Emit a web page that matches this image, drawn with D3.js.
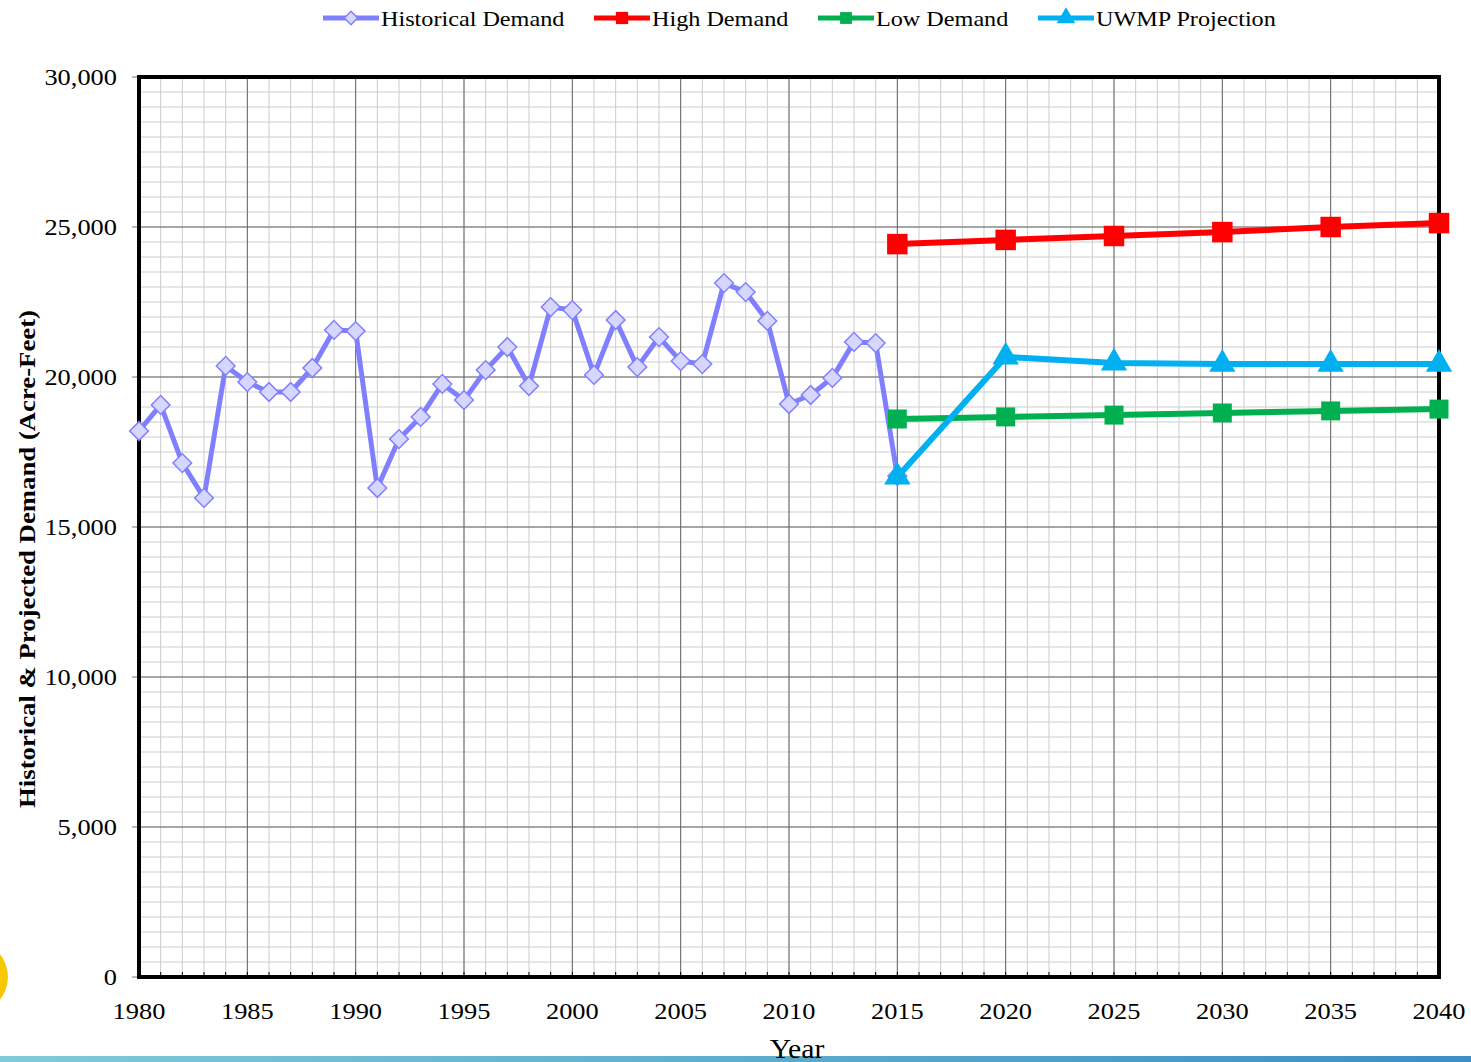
<!DOCTYPE html>
<html lang="en">
<head>
<meta charset="utf-8">
<title>Historical & Projected Demand</title>
<script src="https://cdn.jsdelivr.net/npm/d3@7"></script>
<style>
  body { margin: 0; background: #fff; overflow: hidden; }
  text { font-family: "Liberation Serif", "Times New Roman", serif; fill: #000; }
</style>
</head>
<body>
<script>
// data
var histYears = d3.range(1980, 2016);
var histValues = [18200, 19070, 17130, 15970, 20370, 19830, 19500, 19500, 20300, 21570,
                  21530, 16300, 17930, 18670, 19770, 19230, 20230, 21000, 19700, 22330,
                  22230, 20070, 21900, 20330, 21330, 20530, 20430, 23130, 22830, 21870,
                  19100, 19400, 19970, 21170, 21130, 16700];
var projYears = [2015, 2020, 2025, 2030, 2035, 2040];
var highValues = [24430, 24570, 24700, 24830, 25000, 25130];
var lowValues = [18600, 18670, 18730, 18800, 18870, 18930];
var uwmpValues = [16670, 20670, 20470, 20430, 20430, 20430];
var seriesNames = ["Historical Demand", "High Demand", "Low Demand", "UWMP Projection"];
var yTicks = d3.range(0, 30001, 5000);
var xTicks = d3.range(1980, 2041, 5);

var W = 1471, H = 1062;
var pLeft = 139, pRight = 1439, pTop = 77, pBottom = 977;
var stretch = 1.1; // reference text is a bit wide

var svg = d3.select("body").append("svg").attr("width", W).attr("height", H);

var x = d3.scaleLinear().domain([1980, 2040]).range([pLeft, pRight]);
var y = d3.scaleLinear().domain([0, 30000]).range([pBottom, pTop]);

function label(parent, tx, ty, str, size, anchor) {
  return parent.append("text")
    .attr("transform", "translate(" + tx + "," + ty + ") scale(" + stretch + ",1)")
    .attr("text-anchor", anchor || "start")
    .attr("font-size", size)
    .text(str);
}

// bottom decoration
var grad = svg.append("defs").append("linearGradient").attr("id", "bar");
grad.append("stop").attr("offset", "0%").attr("stop-color", "#7fcbd8");
grad.append("stop").attr("offset", "100%").attr("stop-color", "#3a8fc4");
svg.append("rect").attr("x", 0).attr("y", 1056).attr("width", W).attr("height", 6).attr("fill", "url(#bar)");
svg.append("circle").attr("cx", -28).attr("cy", 977).attr("r", 36).attr("fill", "#f5c800");

// minor grid
var g = svg.append("g");
g.selectAll("line.vminor").data(d3.range(1981, 2040)).enter().append("line")
  .attr("x1", d => x(d)).attr("x2", d => x(d)).attr("y1", pTop).attr("y2", pBottom)
  .attr("stroke", "#cdcdcd").attr("stroke-width", 1);
g.selectAll("line.hminor").data(d3.range(500, 30000, 500)).enter().append("line")
  .attr("x1", pLeft).attr("x2", pRight).attr("y1", d => y(d)).attr("y2", d => y(d))
  .attr("stroke", "#cdcdcd").attr("stroke-width", 1);
// major grid
g.selectAll("line.vmajor").data(d3.range(1985, 2040, 5)).enter().append("line")
  .attr("x1", d => x(d)).attr("x2", d => x(d)).attr("y1", pTop).attr("y2", pBottom)
  .attr("stroke", "#666").attr("stroke-width", 1);
g.selectAll("line.hmajor").data(d3.range(5000, 30000, 5000)).enter().append("line")
  .attr("x1", pLeft).attr("x2", pRight).attr("y1", d => y(d)).attr("y2", d => y(d))
  .attr("stroke", "#666").attr("stroke-width", 1);

// small year ticks inside bottom
g.selectAll("line.ytick").data(d3.range(1981, 2040)).enter().append("line")
  .attr("x1", d => x(d)).attr("x2", d => x(d)).attr("y1", pBottom).attr("y2", pBottom - 5)
  .attr("stroke", "#000").attr("stroke-width", 1);

// y axis ticks and labels
var ya = svg.append("g");
ya.selectAll("line").data(yTicks).enter().append("line")
  .attr("x1", pLeft - 7).attr("x2", pLeft).attr("y1", d => y(d)).attr("y2", d => y(d))
  .attr("stroke", "#777");
yTicks.forEach(function(d) {
  label(ya, 117, y(d) + 8, d3.format(",")(d), 24, "end");
});

// x axis labels
var xa = svg.append("g");
xTicks.forEach(function(d) {
  label(xa, x(d), 1019, d3.format("d")(d), 24, "middle");
});

// frame
svg.append("rect").attr("x", pLeft).attr("y", pTop).attr("width", pRight - pLeft).attr("height", pBottom - pTop)
  .attr("fill", "none").attr("stroke", "#000").attr("stroke-width", 4);

// titles
label(svg, 797, 1058, "Year", 27, "middle");
svg.append("text").attr("transform", "translate(35,559) rotate(-90)")
  .attr("text-anchor", "middle").attr("font-size", 24).attr("font-weight", "bold")
  .attr("textLength", 498).attr("lengthAdjust", "spacingAndGlyphs")
  .text("Historical & Projected Demand (Acre-Feet)");

var line = d3.line().x(d => x(d[0])).y(d => y(d[1]));

function zip(a, b) { return a.map((v, i) => [v, b[i]]); }

var hist = zip(histYears, histValues);
var high = zip(projYears, highValues);
var low = zip(projYears, lowValues);
var uwmp = zip(projYears, uwmpValues);

var diamond = d3.symbol().type(d3.symbolSquare).size(175);
var square = d3.symbol().type(d3.symbolSquare).size(420);
var square2 = d3.symbol().type(d3.symbolSquare).size(360);
var tri = d3.symbol().type(d3.symbolTriangle).size(300);

function drawSeries(data, color, width, sym, fill, stroke, rot) {
  svg.append("path").datum(data).attr("d", line).attr("fill", "none")
    .attr("stroke", color).attr("stroke-width", width).attr("stroke-linejoin", "round");
  svg.append("g").selectAll("path").data(data).enter().append("path")
    .attr("d", sym)
    .attr("transform", d => "translate(" + x(d[0]) + "," + y(d[1]) + ") rotate(" + rot + ")")
    .attr("fill", fill).attr("stroke", stroke).attr("stroke-width", 1.5);
}

drawSeries(hist, "#8080ff", 5, diamond, "#d6d6ff", "#8080ff", 45);
drawSeries(high, "#ff0000", 6, square, "#ff0000", "none", 0);
drawSeries(low, "#00b050", 6, square2, "#00b050", "none", 0);
drawSeries(uwmp, "#00b0f0", 6, tri, "#00b0f0", "none", 0);

// legend
var legendX = [323, 594, 818, 1038];
var legColors = ["#8080ff", "#ff0000", "#00b050", "#00b0f0"];
var legSyms = [d3.symbol().type(d3.symbolSquare).size(90), d3.symbol().type(d3.symbolSquare).size(150),
               d3.symbol().type(d3.symbolSquare).size(140), d3.symbol().type(d3.symbolTriangle).size(150)];
var legFill = ["#d6d6ff", "#ff0000", "#00b050", "#00b0f0"];
var leg = svg.append("g").selectAll("g").data(seriesNames).enter().append("g")
  .attr("transform", (d, i) => "translate(" + legendX[i] + ",18)");
leg.append("line").attr("x1", 0).attr("x2", 56).attr("y1", 0).attr("y2", 0)
  .attr("stroke", (d, i) => legColors[i]).attr("stroke-width", 5);
leg.append("path").attr("d", (d, i) => legSyms[i]())
  .attr("transform", (d, i) => "translate(28,0) rotate(" + (i === 0 ? 45 : 0) + ")")
  .attr("fill", (d, i) => legFill[i]).attr("stroke", (d, i) => i === 0 ? "#8080ff" : "none").attr("stroke-width", 1.5);
leg.each(function(d) { label(d3.select(this), 58, 8, d, 22, "start"); });
</script>
</body>
</html>
